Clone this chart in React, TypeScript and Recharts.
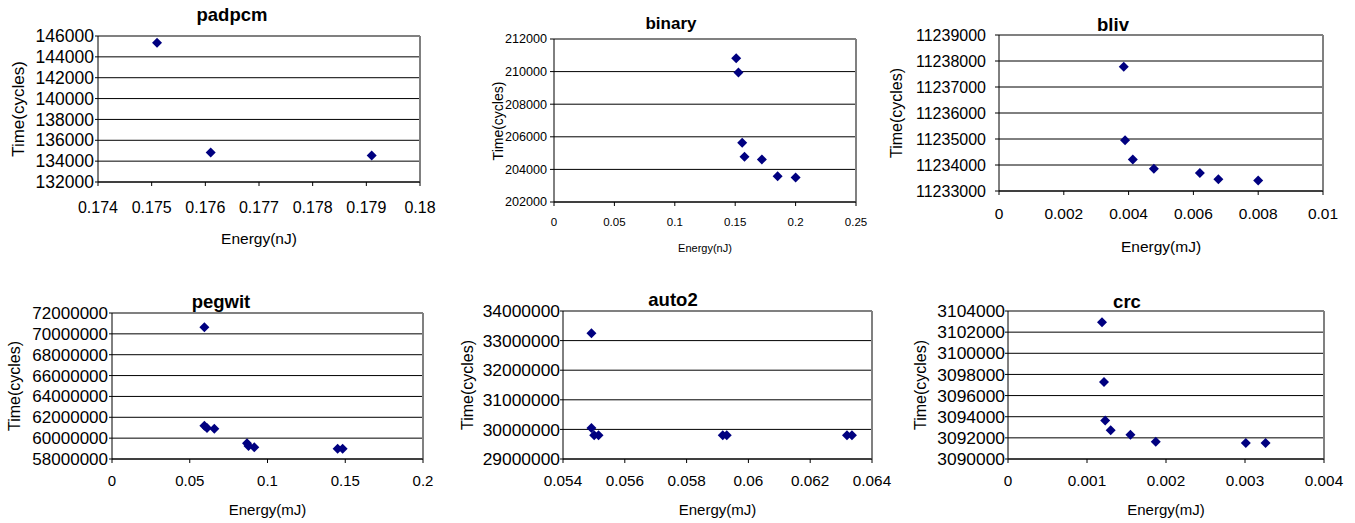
import React from "react";
import { ScatterChart, Scatter, XAxis, YAxis, CartesianGrid, ReferenceLine } from "recharts";

// ---- data ----
const padpcmEnergy = [0.1751, 0.1761, 0.1791];
const padpcmTime = [145350, 134820, 134530];
const padpcmXTicks = [0.174, 0.175, 0.176, 0.177, 0.178, 0.179, 0.18];
const padpcmYTicks = [132000, 134000, 136000, 138000, 140000, 142000, 144000, 146000];

const binaryEnergy = [0.1508, 0.1527, 0.1558, 0.1577, 0.1721, 0.1851, 0.2];
const binaryTime = [210820, 209950, 205630, 204770, 204610, 203580, 203500];
const binaryXTicks = [0, 0.05, 0.1, 0.15, 0.2, 0.25];
const binaryYTicks = [202000, 204000, 206000, 208000, 210000, 212000];

const blivEnergy = [0.00385, 0.00389, 0.00413, 0.00478, 0.0062, 0.00677, 0.008];
const blivTime = [11237780, 11234950, 11234210, 11233860, 11233690, 11233450, 11233400];
const blivXTicks = [0, 0.002, 0.004, 0.006, 0.008, 0.01];
const blivYTicks = [11233000, 11234000, 11235000, 11236000, 11237000, 11238000, 11239000];

const pegwitEnergy = [0.0594, 0.0594, 0.0611, 0.0658, 0.0868, 0.0878, 0.0915, 0.1451, 0.1483];
const pegwitTime = [70640000, 61200000, 60980000, 60900000, 59520000, 59250000, 59120000, 58980000, 58980000];
const pegwitXTicks = [0, 0.05, 0.1, 0.15, 0.2];
const pegwitYTicks = [58000000, 60000000, 62000000, 64000000, 66000000, 68000000, 70000000, 72000000];

const auto2Energy = [0.05492, 0.05492, 0.05501, 0.05515, 0.05917, 0.0593, 0.06319, 0.06335];
const auto2Time = [33250000, 30050000, 29800000, 29800000, 29800000, 29800000, 29800000, 29800000];
const auto2XTicks = [0.054, 0.056, 0.058, 0.06, 0.062, 0.064];
const auto2YTicks = [29000000, 30000000, 31000000, 32000000, 33000000, 34000000];

const crcEnergy = [0.00119, 0.001215, 0.00123, 0.0013, 0.00155, 0.00187, 0.00301, 0.00326];
const crcTime = [3102930, 3097280, 3093650, 3092710, 3092300, 3091630, 3091510, 3091510];
const crcXTicks = [0, 0.001, 0.002, 0.003, 0.004];
const crcYTicks = [3090000, 3092000, 3094000, 3096000, 3098000, 3100000, 3102000, 3104000];

const FONT = '"Liberation Sans", Arial, sans-serif';

const Diamond = (props: any) => {
  const { cx, cy } = props;
  const r = 5;
  return <polygon points={`${cx},${cy - r} ${cx + r},${cy} ${cx},${cy + r} ${cx - r},${cy}`} fill="#000080" />;
};

type PanelProps = {
  title: string;
  xLabel: string;
  energy: number[];
  time: number[];
  xTicks: number[];
  yTicks: number[];
  box: { l: number; r: number; t: number; b: number };
  titlePos: [number, number];
  yLabelX: number;
  xLabelY: number;
  yTickSize?: number;
  xTickSize?: number;
  labelSize?: number;
  yLabelSize?: number;
  titleSize?: number;
  yGap?: [number, number];
  xGap?: number;
};

function Panel(p: PanelProps) {
  const { box } = p;
  const yw = 100;
  const xh = 40;
  const mt = 10;
  const mr = 30;
  const w = yw + (box.r - box.l) + mr;
  const h = mt + (box.b - box.t) + xh;
  const data = p.energy.map((x, i) => ({ x, y: p.time[i] }));
  const xMax = p.xTicks[p.xTicks.length - 1];
  const yMax = p.yTicks[p.yTicks.length - 1];
  const [ySize, yMargin] = p.yGap || [3, 1];
  return (
    <>
      <div style={{ position: "absolute", left: box.l - yw, top: box.t - mt }}>
        <ScatterChart width={w} height={h} margin={{ top: mt, right: mr, left: 0, bottom: 0 }}>
          <CartesianGrid horizontal vertical={false} stroke="#000" strokeOpacity={1} />
          <XAxis
            type="number"
            dataKey="x"
            domain={[p.xTicks[0], xMax]}
            ticks={p.xTicks}
            interval={0}
            height={xh}
            tickFormatter={(v) => String(v)}
            axisLine={{ stroke: "#000" }}
            tickLine={{ stroke: "#000" }}
            tickSize={4}
            tickMargin={p.xGap ?? 12}
            tick={{ fill: "#000", fontSize: p.xTickSize || 15.5, fontFamily: FONT }}
          />
          <YAxis
            type="number"
            dataKey="y"
            domain={[p.yTicks[0], yMax]}
            ticks={p.yTicks}
            interval={0}
            width={yw}
            tickFormatter={(v) => String(v)}
            axisLine={{ stroke: "#000" }}
            tickLine={{ stroke: "#000" }}
            tickSize={ySize}
            tickMargin={yMargin}
            tick={{ fill: "#000", fontSize: p.yTickSize || 17, fontFamily: FONT }}
          />
          <ReferenceLine y={yMax} stroke="#808080" strokeWidth={2} />
          <ReferenceLine x={xMax} stroke="#808080" strokeWidth={2} />
          <Scatter data={data} shape={Diamond} isAnimationActive={false} />
        </ScatterChart>
      </div>
      <div
        style={{
          position: "absolute",
          left: p.titlePos[0],
          top: p.titlePos[1],
          transform: "translate(-50%, -50%)",
          fontFamily: FONT,
          fontWeight: "bold",
          fontSize: p.titleSize || 18.5,
          lineHeight: 1,
          whiteSpace: "nowrap",
        }}
      >
        {p.title}
      </div>
      <div
        style={{
          position: "absolute",
          left: (box.l + box.r) / 2,
          top: p.xLabelY,
          transform: "translate(-50%, -50%)",
          fontFamily: FONT,
          fontSize: p.labelSize || 15,
          lineHeight: 1,
          whiteSpace: "nowrap",
        }}
      >
        {p.xLabel}
      </div>
      <div
        style={{
          position: "absolute",
          left: p.yLabelX,
          top: (box.t + box.b) / 2,
          transform: "translate(-50%, -50%) rotate(-90deg)",
          fontFamily: FONT,
          fontSize: p.yLabelSize || 16,
          lineHeight: 1,
          whiteSpace: "nowrap",
        }}
      >
        Time(cycles)
      </div>
    </>
  );
}

export default function App() {
  return (
    <div style={{ position: "absolute", left: 0, top: 0, width: 1355, height: 523, background: "#fff", overflow: "hidden" }}>
      <Panel
        title="padpcm" xLabel="Energy(nJ)"
        energy={padpcmEnergy} time={padpcmTime} xTicks={padpcmXTicks} yTicks={padpcmYTicks}
        box={{ l: 98, r: 420, t: 36, b: 182 }} titlePos={[232, 15]} yLabelX={18} xLabelY={239}
        yTickSize={17.5} xTickSize={16} yLabelSize={17} labelSize={15.5} yGap={[3, 1]} xGap={16}
      />
      <Panel
        title="binary" xLabel="Energy(nJ)"
        energy={binaryEnergy} time={binaryTime} xTicks={binaryXTicks} yTicks={binaryYTicks}
        box={{ l: 554, r: 856, t: 39, b: 202 }} titlePos={[671, 23]} yLabelX={498} xLabelY={248}
        yTickSize={12.6} xTickSize={11.5} yLabelSize={14} labelSize={11} titleSize={17} yGap={[4, 3]} xGap={12}
      />
      <Panel
        title="bliv" xLabel="Energy(mJ)"
        energy={blivEnergy} time={blivTime} xTicks={blivXTicks} yTicks={blivYTicks}
        box={{ l: 999, r: 1323, t: 35, b: 191 }} titlePos={[1113, 25]} yLabelX={897} xLabelY={247}
        yTickSize={16} xTickSize={15.5} labelSize={15.5} yGap={[4, 9]} xGap={13}
      />
      <Panel
        title="pegwit" xLabel="Energy(mJ)"
        energy={pegwitEnergy} time={pegwitTime} xTicks={pegwitXTicks} yTicks={pegwitYTicks}
        box={{ l: 112, r: 423, t: 313, b: 459 }} titlePos={[221, 302]} yLabelX={15} xLabelY={509}
        yTickSize={17} xTickSize={15} labelSize={15} yGap={[3, 1]} xGap={12}
      />
      <Panel
        title="auto2" xLabel="Energy(mJ)"
        energy={auto2Energy} time={auto2Time} xTicks={auto2XTicks} yTicks={auto2YTicks}
        box={{ l: 563, r: 872, t: 311, b: 459 }} titlePos={[673, 300]} yLabelX={468} xLabelY={509}
        yTickSize={17.4} xTickSize={15.3} labelSize={15} yGap={[3, 0]} xGap={12}
      />
      <Panel
        title="crc" xLabel="Energy(mJ)"
        energy={crcEnergy} time={crcTime} xTicks={crcXTicks} yTicks={crcYTicks}
        box={{ l: 1008, r: 1324, t: 311, b: 459 }} titlePos={[1127, 302]} yLabelX={921} xLabelY={509}
        yTickSize={17.4} xTickSize={15.3} labelSize={15} yGap={[3, 0]} xGap={12}
      />
    </div>
  );
}
